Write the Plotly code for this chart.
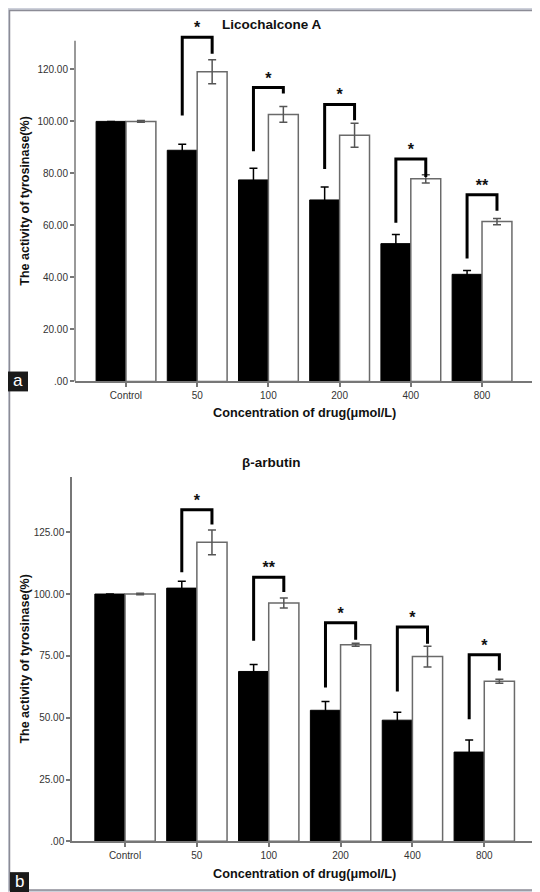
import plotly.graph_objects as go

W, H = 540, 892

categories = ["Control", "50", "100", "200", "400", "800"]

# Panel a: Licochalcone A
black_a = [100.0, 88.9, 77.5, 69.8, 53.0, 41.2]
black_a_err = [0.0, 2.3, 4.5, 5.0, 3.5, 1.5]
white_a = [100.0, 119.1, 102.7, 94.7, 77.9, 61.5]
white_a_err = [0.3, 4.6, 3.0, 4.6, 1.6, 1.2]
br_a_left = [None, 102.3, 88.5, 81.7, 61.0, 47.3]
br_a_top = [None, 132.4, 113.0, 106.5, 85.5, 71.8]
br_a_right = [None, 126.0, 110.7, 100.4, 78.6, 65.6]
star_a = ["", "*", "*", "*", "*", "**"]

# Panel b: beta-arbutin
black_b = [100.0, 102.4, 68.7, 53.0, 49.0, 36.1]
black_b_err = [0.0, 2.8, 2.8, 3.6, 3.2, 4.9]
white_b = [100.0, 120.9, 96.4, 79.5, 74.7, 64.7]
white_b_err = [0.3, 5.0, 2.0, 0.6, 4.2, 0.8]
br_b_left = [None, 108.8, 81.1, 62.2, 60.6, 49.4]
br_b_top = [None, 134.1, 106.8, 88.4, 86.7, 75.5]
br_b_right = [None, 128.1, 100.8, 81.5, 79.9, 69.1]
star_b = ["", "*", "**", "*", "*", "*"]

ticks_a = [0, 20, 40, 60, 80, 100, 120]
ticklabels_a = [".00", "20.00", "40.00", "60.00", "80.00", "100.00", "120.00"]
axis_top_a = 131
ticks_b = [0, 25, 50, 75, 100, 125]
ticklabels_b = [".00", "25.00", "50.00", "75.00", "100.00", "125.00"]
axis_top_b = 147.4

FONT = "Liberation Sans, Arial, sans-serif"
BW = 0.42
AXC = "#777777"

fig = go.Figure()


def px_x(p):
    return p / W


def px_y(p):
    return 1 - p / H


def add_panel(xa, ya, black, berr, white, werr, bl, bt, brr, stars):
    xs = list(range(len(categories)))
    fig.add_trace(go.Bar(
        x=xs, y=black, width=BW, offset=-BW, marker=dict(color="black", line=dict(color="black", width=1)),
        error_y=dict(type="data", array=berr, color="black", thickness=1.5, width=4),
        xaxis=xa, yaxis=ya, showlegend=False, hoverinfo="skip"))
    fig.add_trace(go.Bar(
        x=xs, y=white, width=BW, offset=0, marker=dict(color="white", line=dict(color="#6a6a6a", width=1.5)),
        error_y=dict(type="data", array=werr, color="#555555", thickness=1.5, width=4),
        xaxis=xa, yaxis=ya, showlegend=False, hoverinfo="skip"))
    for i in xs:
        if bl[i] is None:
            continue
        x0 = i - BW / 2
        x1 = i + BW / 2
        fig.add_trace(go.Scatter(
            x=[x0, x0, x1, x1], y=[bl[i], bt[i], bt[i], brr[i]], mode="lines",
            line=dict(color="black", width=3), xaxis=xa, yaxis=ya,
            showlegend=False, hoverinfo="skip", cliponaxis=False))
    sx = [i for i in xs if stars[i]]
    sy = [bt[i] for i in sx]
    st = ["<b>" + stars[i] + "</b>" for i in sx]
    fig.add_trace(go.Scatter(
        x=sx, y=sy, mode="text", text=st, textposition="top center",
        textfont=dict(family=FONT, size=16, color="#111"),
        xaxis=xa, yaxis=ya, showlegend=False, hoverinfo="skip", cliponaxis=False))


add_panel("x", "y", black_a, black_a_err, white_a, white_a_err, br_a_left, br_a_top, br_a_right, star_a)
add_panel("x2", "y2", black_b, black_b_err, white_b, white_b_err, br_b_left, br_b_top, br_b_right, star_b)

axis_common = dict(showgrid=False, zeroline=False, showline=True, linecolor=AXC, linewidth=1.5,
                   ticks="outside", ticklen=4, tickcolor=AXC, tickwidth=1.5,
                   tickfont=dict(family=FONT, size=10, color="#333333"))

# panel a: extended range so the top bracket is not clipped; the visible axis line stops at axis_top_a
ya_max = 138.0
pxu_a = (376 - 33) / axis_top_a

fig.update_layout(
    width=W, height=H,
    margin=dict(l=0, r=0, t=0, b=0),
    paper_bgcolor="#cdd0da", plot_bgcolor="white",
    barmode="overlay",
    xaxis=dict(domain=[px_x(67), px_x(527)], range=[-0.716, 5.744], anchor="y",
               tickvals=list(range(6)), ticktext=categories, **axis_common),
    yaxis=dict(domain=[px_y(376), px_y(376 - ya_max * pxu_a)], range=[0, ya_max], anchor="x",
               tickvals=ticks_a, ticktext=ticklabels_a, **{**axis_common, "showline": False}),
    xaxis2=dict(domain=[px_x(64), px_x(528)], range=[-0.738, 5.72], anchor="y2",
                tickvals=list(range(6)), ticktext=categories, **axis_common),
    yaxis2=dict(domain=[px_y(839), px_y(472)], range=[0, axis_top_b], anchor="x2",
                tickvals=ticks_b, ticktext=ticklabels_b, **axis_common),
)

shapes = [
    dict(type="rect", xref="paper", yref="paper", x0=px_x(1.5), x1=px_x(537.5), y0=px_y(888), y1=px_y(2.5),
         fillcolor="white", line=dict(color="#8c8c96", width=1.5), layer="below"),
    dict(type="line", xref="x domain", yref="y", x0=0, x1=0, y0=0, y1=axis_top_a,
         line=dict(color=AXC, width=1.5)),
    dict(type="rect", xref="paper", yref="paper", x0=px_x(0), x1=px_x(20), y0=px_y(386), y1=px_y(366),
         fillcolor="#1a1a1a", line=dict(width=0), layer="above"),
    dict(type="rect", xref="paper", yref="paper", x0=px_x(2), x1=px_x(21), y0=px_y(890), y1=px_y(870),
         fillcolor="#1a1a1a", line=dict(width=0), layer="above"),
]
fig.update_layout(shapes=shapes)

ann = []


def text(x, y, s, size, bold=True, angle=0, color="#111"):
    ann.append(dict(x=px_x(x), y=px_y(y), xref="paper", yref="paper", text=f"<b>{s}</b>" if bold else s,
                    showarrow=False, xanchor="center", yanchor="middle", textangle=angle,
                    font=dict(family=FONT, size=size, color=color)))


text(264, 17, "Licochalcone A", 13.5)
text(296, 408, "Concentration of drug(μmol/L)", 12.7)
text(17, 194, "The activity of tyrosinase(%)", 12.5, angle=-90)
text(263, 458, "β-arbutin", 13.5)
text(296, 872, "Concentration of drug(μmol/L)", 12.7)
text(17, 655, "The activity of tyrosinase(%)", 12.5, angle=-90)
text(10, 375, "a", 17, bold=False, color="white")
text(11.5, 879, "b", 17, bold=False, color="white")
fig.update_layout(annotations=ann)

fig.write_html("out.html")
